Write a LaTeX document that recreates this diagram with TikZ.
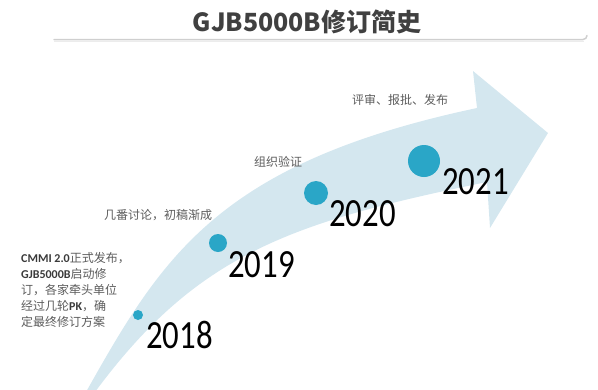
\documentclass[tikz,border=0pt]{standalone}
\usepackage{fontspec}
\setmainfont{Carlito}
\newfontfamily\cjk{Noto Sans CJK SC}
\newfontfamily\carl{Carlito}
\newfontfamily\yearfont[FakeStretch=0.82]{Carlito}
\definecolor{band}{HTML}{D4E7EF}
\definecolor{dotc}{HTML}{2AA6C7}
\definecolor{ttl}{HTML}{404040}
\definecolor{txt}{HTML}{5C5C5C}
\definecolor{latc}{HTML}{3A3A3A}
\newcommand\latbold[1]{{\carl\bfseries\color{latc}#1}}
\tikzset{
  dotnode/.style={circle, fill=dotc, draw=none, inner sep=0pt},
  yearlabel/.style={anchor=base west, inner sep=0pt, text=black, font=\yearfont\fontsize{40}{40}\selectfont},
  steplabel/.style={inner sep=0pt, text=txt, font=\cjk\fontsize{12}{12}\selectfont},
  blockline/.style={anchor=base west, inner sep=0pt, text=txt, font=\cjk\fontsize{12}{12}\selectfont},
}
\begin{document}
\begin{tikzpicture}[x=1pt,y=-1pt]
\useasboundingbox (0,0) rectangle (598,389);
% title
\node[inner sep=0pt, text=ttl, font=\cjk\bfseries\fontsize{25}{25}\selectfont] (title) at (307,22) {GJB5000B修订简史};
\draw[line width=1pt, color=gray!15] (54,41.6) -- (584,41.6);
\draw[line width=1.5pt, color=gray!38, line cap=round] (54,39.5) -- (583,39.5) to[out=0,in=-90] (587,35.5);
% arrow band
\begin{scope}
\clip (0,0) rectangle (598,389);
\fill[band] (86,392) .. controls (162,257) and (218,163) .. (477,108)
  -- (473,71) -- (548,133) -- (490,228) -- (487,182)
  .. controls (291,222) and (197,254) .. (95,392) -- cycle;
\end{scope}
% dots
\node[dotnode, minimum size=10pt] (d2018) at (138,315) {};
\node[dotnode, minimum size=18pt] (d2019) at (218,243) {};
\node[dotnode, minimum size=24pt] (d2020) at (316,193) {};
\node[dotnode, minimum size=32pt] (d2021) at (424,161) {};
% years
\node[yearlabel] (y2018) at (146,348) {2018};
\node[yearlabel] (y2019) at (228,277) {2019};
\node[yearlabel] (y2020) at (329,226) {2020};
\node[yearlabel] (y2021) at (442,194) {2021};
% step labels
\node[steplabel] (s2019) at (158,215) {几番讨论，初稿渐成};
\node[steplabel] (s2020) at (278,162) {组织验证};
\node[steplabel] (s2021) at (400,100) {评审、报批、发布};
% left text block
\node[blockline] (b1) at (21,262.5) {\latbold{CMMI 2.0}正式发布，};
\node[blockline] (b2) at (21,278.5) {\latbold{GJB5000B}启动修};
\node[blockline] (b3) at (21,294.5) {订，各家牵头单位};
\node[blockline] (b4) at (21,310.5) {经过几轮\latbold{PK}，确};
\node[blockline] (b5) at (21,326.5) {定最终修订方案};
\end{tikzpicture}
\end{document}
